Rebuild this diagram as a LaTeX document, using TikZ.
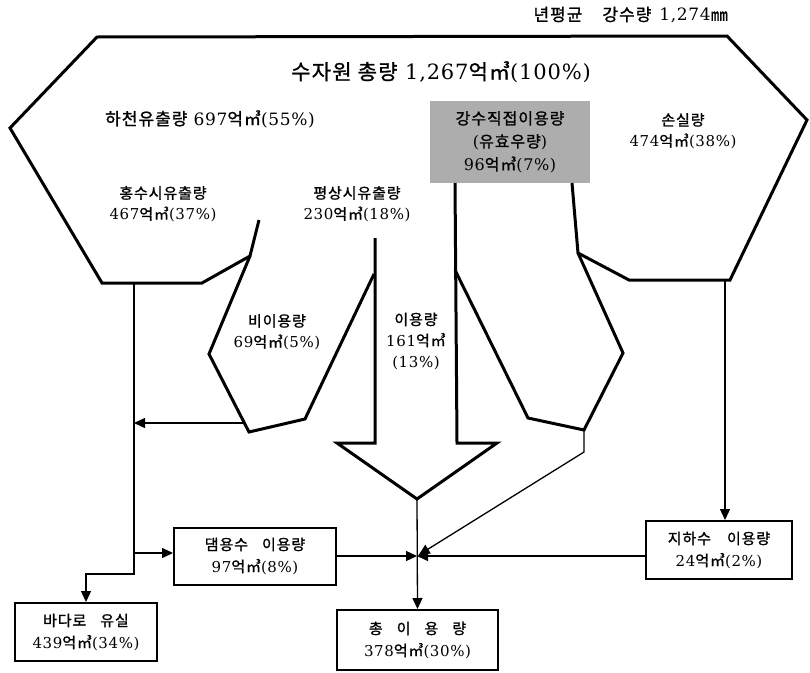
\documentclass[tikz,border=0pt]{standalone}
\usepackage{fontspec}
\setmainfont{DejaVu Serif}[LetterSpace=4]
\newfontfamily\kof{Noto Sans CJK KR}[LetterSpace=6, FakeBold=1.2]
\newcommand\ko[1]{{\kof #1}}
\newcommand\ek{\ko{억㎥}}
\usetikzlibrary{arrows.meta}
\begin{document}
\begin{tikzpicture}[x=1pt,y=-1pt,
  thickline/.style={line width=3pt, line join=miter},
  conn/.style={line width=1.3pt},
  arr/.style={-{Triangle[length=11pt,width=10pt]}},
  box/.style={draw, line width=2pt, fill=white, align=center, inner sep=0pt, font=\fontsize{15}{22}\selectfont},
  lab/.style={align=center, inner sep=0pt, font=\fontsize{15}{21}\selectfont},
]
\useasboundingbox (0,0) rectangle (810,672);

% shaded box (direct precipitation use)
\node[fill=black!32, minimum width=160pt, minimum height=82pt, inner sep=0pt, align=center,
      font=\fontsize{16}{23}\selectfont] (direct) at (510,142)
      {\ko{강수직접이용량}\\(\ko{유효우량})\\96\ek(7\%)};

% outline shapes
\draw[thickline] (259,220) -- (250,256) -- (202,283) -- (102,283) -- (10,128) -- (97,37)
   -- (727,36) -- (807,120) -- (730,280) -- (629,280) -- (578,253) -- (572,183);
\draw[thickline] (250,256) -- (209,354) -- (249,432) -- (305,419) -- (374,274);
\draw[thickline] (375,238) -- (375,443) -- (337,443) -- (417,499) -- (497,443) -- (457,443) -- (455,183);
\draw[thickline] (455,270) -- (528,418) -- (584,430) -- (623,353) -- (578,253);

% labels
\node[lab, font=\fontsize{17}{20}\selectfont, anchor=east] (yr) at (728,15)
   {\ko{년평균}\hspace{20pt}\ko{강수량}\hspace{8pt}1,274\ko{㎜}};
\node[lab, font=\fontsize{21}{24}\selectfont] (ttl) at (441,72) {\ko{수자원 총량} 1,267\ek(100\%)};
\node[lab, font=\fontsize{17}{20}\selectfont, anchor=west] (river) at (105,119) {\ko{하천유출량} 697\ek(55\%)};
\node[lab] (loss) at (683,131) {\ko{손실량}\\474\ek(38\%)};
\node[lab] (flood) at (163,204) {\ko{홍수시유출량}\\467\ek(37\%)};
\node[lab] (normal) at (357,204) {\ko{평상시유출량}\\230\ek(18\%)};
\node[lab] (nonuselab) at (277,332) {\ko{비이용량}\\69\ek(5\%)};
\node[lab] (uselab) at (416,341) {\ko{이용량}\\161\ek\\(13\%)};

% boxes
\node[box, minimum width=162pt, minimum height=57pt] (dam) at (255,556) {\ko{댐용수\hspace{14pt}이용량}\\97\ek(8\%)};
\node[box, minimum width=142pt, minimum height=58pt] (sea) at (86,632) {\ko{바다로\hspace{14pt}유실}\\439\ek(34\%)};
\node[box, minimum width=161pt, minimum height=60pt] (total) at (417.5,640) {\ko{총\hspace{14pt}이\hspace{14pt}용\hspace{14pt}량}\\378\ek(30\%)};
\node[box, minimum width=146pt, minimum height=58pt] (gw) at (719,550) {\ko{지하수\hspace{16pt}이용량}\\24\ek(2\%)};

% connector points
\coordinate (lobeL) at (134,283);
\coordinate (lbend) at (134,574);
\coordinate (lsplit) at (134,553);
\coordinate (nonuse) at (244,423);
\coordinate (tip) at (417,499);
\coordinate (jn) at (417,556);
\coordinate (rlb) at (584,430);
\coordinate (rlk) at (584,452);
\coordinate (rlobeB) at (725,280);

% connectors
\draw[conn, arr] (lobeL) -- (lbend) -| (sea.north);
\draw[conn, arr] (lsplit) -- (lsplit -| dam.west);
\draw[conn, arr] (nonuse) -- (nonuse -| lobeL);
\draw[conn, arr] (tip) -- (total.north);
\draw[conn, arr] (dam.east |- jn) -- (jn);
\draw[conn, arr] (gw.west |- jn) -- (jn);
\draw[conn, arr, shorten >=2pt] (rlb) -- (rlk) -- (jn);
\draw[conn, arr] (rlobeB) -- (rlobeB |- gw.north);
\end{tikzpicture}
\end{document}
